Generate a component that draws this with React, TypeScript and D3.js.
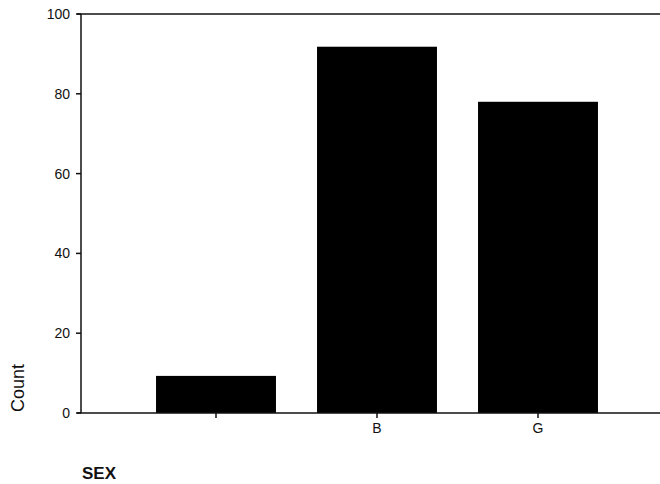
import * as d3 from "d3";
import { useMemo } from "react";

const CATEGORIES: string[] = ["", "B", "G"];
const COUNTS: number[] = [9.3, 91.8, 78];
const Y_TICKS: number[] = [0, 20, 40, 60, 80, 100];

const WIDTH = 660;
const HEIGHT = 484;
const AXIS_LEFT = 81;
const AXIS_RIGHT = 660;
const PLOT_TOP = 14;
const PLOT_BOTTOM = 413;

type BarDatum = { name: string; value: number };

export default function App() {
  const data = useMemo<BarDatum[]>(
    () => CATEGORIES.map((name, i) => ({ name, value: COUNTS[i] })),
    [],
  );

  const x = useMemo(
    () =>
      d3
        .scaleBand<string>()
        .domain(CATEGORIES)
        .range([135.5, 618.5])
        .paddingInner(0.255)
        .paddingOuter(0.1275),
    [],
  );

  const y = useMemo(
    () => d3.scaleLinear().domain([0, 100]).range([PLOT_BOTTOM, PLOT_TOP]),
    [],
  );

  const font = "Arial, 'Liberation Sans', sans-serif";

  return (
    <svg
      width={WIDTH}
      height={HEIGHT}
      style={{ position: "absolute", left: 0, top: 0, background: "#fff" }}
      fontFamily={font}
    >
      {/* bars */}
      {data.map((d) => (
        <rect
          key={d.name || "missing"}
          x={x(d.name)}
          y={y(d.value)}
          width={x.bandwidth()}
          height={y(0) - y(d.value)}
          fill="#000"
        />
      ))}

      {/* frame lines */}
      <line x1={77} x2={AXIS_RIGHT} y1={y(100)} y2={y(100)} stroke="#111" strokeWidth={1.5} />
      <line x1={77} x2={AXIS_RIGHT} y1={y(0)} y2={y(0)} stroke="#111" strokeWidth={1.5} />
      <line x1={AXIS_LEFT} x2={AXIS_LEFT} y1={y(100)} y2={y(0)} stroke="#111" strokeWidth={1.5} />

      {/* y ticks */}
      {Y_TICKS.map((t) => (
        <g key={t} transform={`translate(0, ${y(t)})`}>
          <line x1={76} x2={AXIS_LEFT} stroke="#111" strokeWidth={1.5} />
          <text x={70} dy="0.35em" textAnchor="end" fontSize={14} fill="#111">
            {t}
          </text>
        </g>
      ))}

      {/* x ticks */}
      {CATEGORIES.map((c) => {
        const cx = (x(c) ?? 0) + x.bandwidth() / 2;
        return (
          <g key={c || "missing"} transform={`translate(${cx}, ${y(0)})`}>
            <line y1={0} y2={5} stroke="#111" strokeWidth={1.5} />
            <text y={20} textAnchor="middle" fontSize={14} fill="#111">
              {c}
            </text>
          </g>
        );
      })}

      <text
        transform="translate(24, 388) rotate(-90)"
        textAnchor="middle"
        fontSize={18}
        fill="#111"
      >
        Count
      </text>
      <text x={82} y={479} fontSize={17} fontWeight="bold" fill="#111">
        SEX
      </text>
    </svg>
  );
}
